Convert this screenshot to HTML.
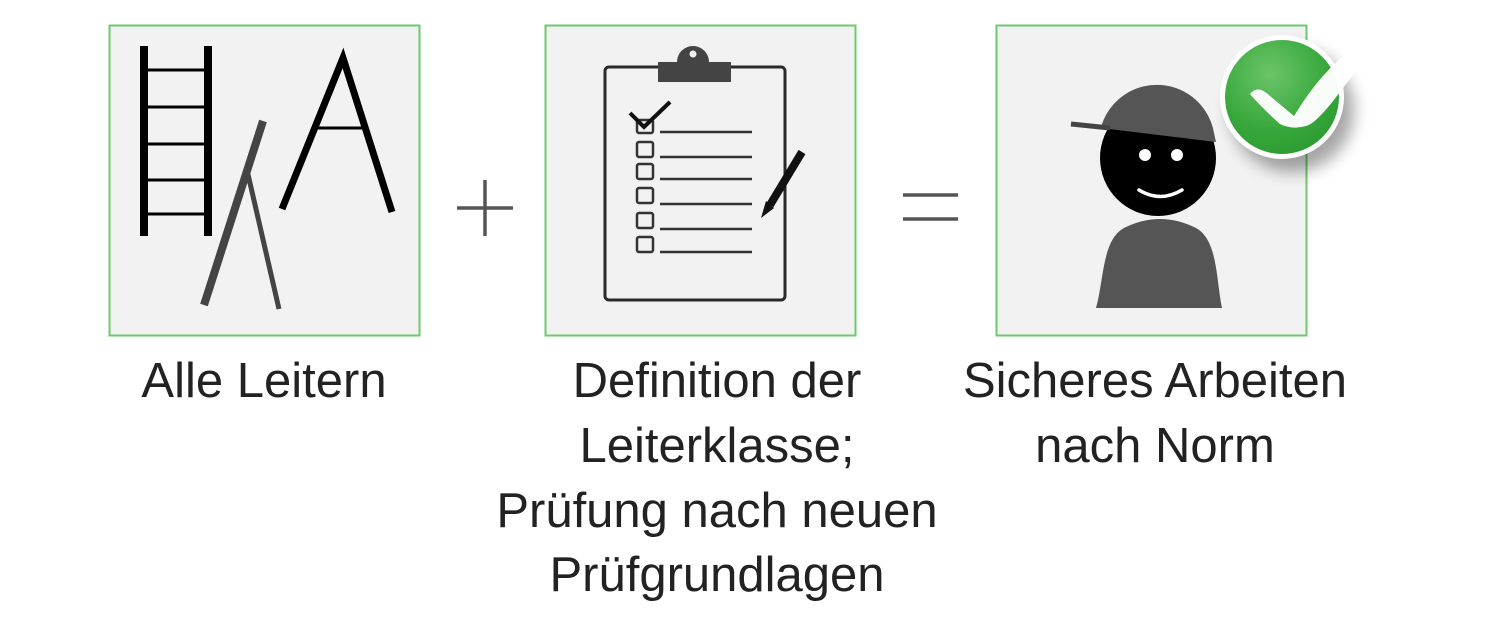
<!DOCTYPE html>
<html><head><meta charset="utf-8"><style>
html,body{margin:0;padding:0;background:#fff;width:1486px;height:628px;overflow:hidden}
text{font-family:"Liberation Sans",sans-serif;font-size:49px;fill:#222}
</style></head><body>
<svg width="1486" height="628" viewBox="0 0 1486 628" xmlns="http://www.w3.org/2000/svg">
<defs>
<radialGradient id="g" cx="0.4" cy="0.3" r="0.8"><stop offset="0" stop-color="#6cc46a"/><stop offset="0.6" stop-color="#38a83c"/><stop offset="1" stop-color="#2a9a30"/></radialGradient>
<filter id="sh" x="-50%" y="-50%" width="200%" height="200%"><feGaussianBlur stdDeviation="8"/></filter>
</defs>
<rect x="109.5" y="25.5" width="310" height="310" fill="#f2f2f2" stroke="#6cc96c" stroke-width="2"/>
<rect x="545.5" y="25.5" width="310" height="310" fill="#f2f2f2" stroke="#6cc96c" stroke-width="2"/>
<rect x="996.5" y="25.5" width="310" height="310" fill="#f2f2f2" stroke="#6cc96c" stroke-width="2"/>
<g stroke="#000" stroke-linecap="butt">
<line x1="144" y1="46" x2="144" y2="236" stroke-width="8"/>
<line x1="208" y1="46" x2="208" y2="236" stroke-width="8"/>
<g stroke-width="3"><line x1="144" y1="70" x2="208" y2="70"/><line x1="144" y1="107" x2="208" y2="107"/><line x1="144" y1="144" x2="208" y2="144"/><line x1="144" y1="180" x2="208" y2="180"/><line x1="144" y1="214" x2="208" y2="214"/></g>
<polyline points="282,209 343,58 392,212" fill="none" stroke-width="7" stroke-linejoin="miter"/>
<line x1="318" y1="128" x2="362" y2="128" stroke-width="3"/>
</g>
<line x1="263" y1="121" x2="204" y2="305" stroke="#444" stroke-width="8"/>
<line x1="247" y1="170" x2="279" y2="309" stroke="#444" stroke-width="5"/>
<g stroke="#555" stroke-width="3.5">
<line x1="457" y1="208" x2="513" y2="208"/><line x1="485" y1="180" x2="485" y2="236"/>
<line x1="903" y1="195" x2="958" y2="195"/><line x1="903" y1="219" x2="958" y2="219"/>
</g>
<rect x="605" y="67" width="180" height="233" rx="4" fill="none" stroke="#2a2a2a" stroke-width="3"/>
<path d="M677,62 A16,16 0 0 1 709,62 Z" fill="#444"/>
<rect x="658" y="62" width="73" height="20" fill="#444"/>
<circle cx="693" cy="54" r="3.5" fill="#f2f2f2"/>
<g fill="none" stroke="#333" stroke-width="2.5">
<rect x="637" y="120" width="16" height="13" rx="2"/>
<rect x="637" y="142" width="16" height="15" rx="2"/>
<rect x="637" y="164" width="16" height="15" rx="2"/>
<rect x="637" y="188" width="16" height="15" rx="2"/>
<rect x="637" y="213" width="16" height="15" rx="2"/>
<rect x="637" y="237" width="16" height="15" rx="2"/>
<line x1="660" y1="132" x2="752" y2="132"/><line x1="660" y1="157" x2="752" y2="157"/><line x1="660" y1="179" x2="752" y2="179"/><line x1="660" y1="204" x2="752" y2="204"/><line x1="660" y1="229" x2="752" y2="229"/><line x1="660" y1="252" x2="752" y2="252"/>
</g>
<polyline points="630,113 644,127 670,102" fill="none" stroke="#111" stroke-width="4"/>
<line x1="802" y1="152" x2="770" y2="205" stroke="#111" stroke-width="8"/>
<polygon points="766,201 774,208 761,218" fill="#111"/>
<circle cx="1158" cy="158" r="58" fill="#000"/>
<path d="M1102,124 A58,58 0 0 1 1214,133 L1216,142 L1101,128 Z" fill="#555"/>
<line x1="1071" y1="124" x2="1110" y2="128" stroke="#444" stroke-width="5"/>
<circle cx="1145" cy="155" r="6" fill="#fff"/><circle cx="1177" cy="155" r="6" fill="#fff"/>
<path d="M1139,190 Q1160,203 1182,190" fill="none" stroke="#fff" stroke-width="3.5" stroke-linecap="round"/>
<path d="M1096,308 L1222,308 C1216,280 1218,240 1196,228 Q1160,210 1124,228 C1102,240 1104,280 1096,308 Z" fill="#555"/>
<circle cx="1292" cy="110" r="62" fill="#000" opacity="0.35" filter="url(#sh)"/>
<circle cx="1282" cy="97" r="62" fill="#fff"/>
<circle cx="1282" cy="97" r="57" fill="url(#g)"/>
<path d="M1250,94 Q1258,84 1270,96 L1294,116 Q1322,70 1352,50 Q1370,40 1386,42 Q1368,54 1340,92 Q1316,124 1306,126 Q1292,130 1280,124 Q1262,108 1250,94 Z" fill="#fff" opacity="0.97"/>
<text x="264" y="397" text-anchor="middle">Alle Leitern</text>
<text x="717" y="397" text-anchor="middle">Definition der</text>
<text x="717" y="462" text-anchor="middle">Leiterklasse;</text>
<text x="717" y="527" text-anchor="middle">Prüfung nach neuen</text>
<text x="717" y="591" text-anchor="middle">Prüfgrundlagen</text>
<text x="1155" y="397" text-anchor="middle">Sicheres Arbeiten</text>
<text x="1155" y="462" text-anchor="middle">nach Norm</text>
</svg>
</body></html>
